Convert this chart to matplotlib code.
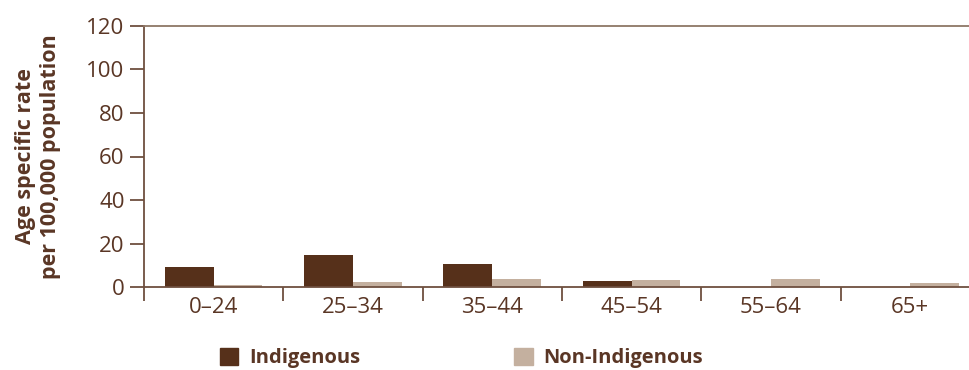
import numpy as np
import matplotlib.pyplot as plt
from matplotlib.patches import Patch

# Age groups and rates per 100,000 population
age_groups = ["0\u201324", "25\u201334", "35\u201344", "45\u201354", "55\u201364", "65+"]
indigenous = [9.3, 14.8, 10.7, 2.9, 0.0, 0.0]
non_indigenous = [1.1, 2.4, 3.8, 3.3, 3.8, 2.0]
y_ticks = [0, 20, 40, 60, 80, 100, 120]

dark = "#56301a"
light = "#c4b09f"
axis_col = "#6e4f3f"
text_col = "#5a3625"

plt.rcParams["font.family"] = ["Open Sans", "DejaVu Sans"]

fig = plt.figure(figsize=(9.69, 3.70), dpi=100)
ax = fig.add_axes([144 / 969, 1 - 287.3 / 370, 1 - 144 / 969, (287.3 - 25.7) / 370])

x = np.arange(len(age_groups)) + 0.5
w = 0.35
ax.bar(x - w / 2, indigenous, width=w, color=dark, label="Indigenous")
ax.bar(x + w / 2, non_indigenous, width=w, color=light, label="Non-Indigenous")

ax.set_xlim(0, (969 - 144) / 139.3)
ax.set_ylim(0, 120)
ax.set_yticks(y_ticks)
ax.set_xticks(np.arange(len(age_groups)))
ax.set_xticklabels([])
ax.set_xticks(x, minor=True)
ax.set_xticklabels(age_groups, minor=True)

ax.tick_params(axis="y", length=10, width=1.3, color=axis_col, labelcolor=text_col,
               labelsize=16, pad=4)
ax.tick_params(axis="x", which="major", length=10, width=1.3, color=axis_col)
ax.tick_params(axis="x", which="minor", length=0, labelcolor=text_col,
               labelsize=16, pad=7)

for side in ["left", "bottom"]:
    ax.spines[side].set_color(axis_col)
    ax.spines[side].set_linewidth(1.3)
ax.spines["top"].set_color("#8e7766")
ax.spines["top"].set_linewidth(1.3)
ax.spines["right"].set_visible(False)

ax.set_ylabel("Age specific rate\nper 100,000 population", fontsize=15.5,
              fontweight="bold", color=text_col, linespacing=1.3, labelpad=18)

handles = [Patch(color=dark, label="Indigenous"),
           Patch(color=light, label="Non-Indigenous")]
leg = fig.legend(handles=handles, loc="upper left", ncol=2,
                 bbox_to_anchor=(212 / 969, 1 - 340 / 370), frameon=False,
                 handlelength=0.9, handleheight=0.9, handletextpad=0.55,
                 columnspacing=7.65, borderaxespad=0,
                 prop={"size": 14.5, "weight": "bold"})
for t in leg.get_texts():
    t.set_color(text_col)

fig.savefig("out.png", dpi=100)
